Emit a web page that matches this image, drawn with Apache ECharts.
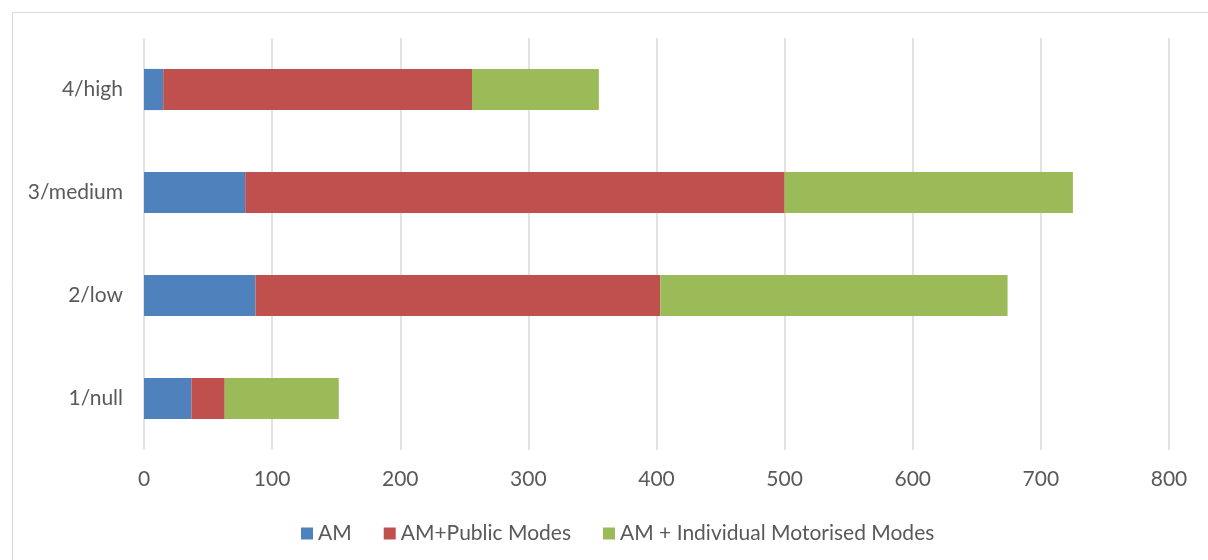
<!DOCTYPE html>
<html>
<head>
<meta charset="utf-8">
<title>AM modes by level</title>
<script src="https://cdn.jsdelivr.net/npm/echarts@6/dist/echarts.min.js"></script>
<style>
  html, body { margin: 0; padding: 0; background: #fff; }
  #chart { width: 1208px; height: 560px; }
</style>
</head>
<body>
<div id="chart"></div>
<script>
// Category labels, bottom to top
var levels = ['1/null', '2/low', '3/medium', '4/high'];

// Series values
var amOnly = [37, 87, 79, 15];
var amPublic = [26, 316, 421, 241];
var amIndividual = [89, 271, 225, 99];

var seriesNames = ['AM', 'AM+Public Modes', 'AM + Individual Motorised Modes'];
var colors = ['#4f81bd', '#c0504d', '#9bbb59'];

var FONT = 'Lato, "Noto Sans", sans-serif';
var TEXT = '#595959';

var chart = echarts.init(document.getElementById('chart'));

function stackSeries(name, data, color) {
  return {
    name: name,
    type: 'bar',
    stack: 'total',
    barWidth: '40%',
    data: data,
    itemStyle: { color: color },
    emphasis: { disabled: true }
  };
}

var option = {
  animation: false,
  color: colors,
  graphic: [{
    type: 'rect',
    left: 10,
    top: 10,
    shape: { width: 1240, height: 600 },
    style: { fill: 'none', stroke: '#d9d9d9', lineWidth: 1 },
    silent: true
  }],
  grid: {
    left: 144,
    right: 39,
    top: 38,
    bottom: 110
  },
  xAxis: {
    type: 'value',
    min: 0,
    max: 800,
    interval: 100,
    axisLine: { show: false },
    axisTick: { show: false },
    axisLabel: {
      color: TEXT,
      fontFamily: FONT,
      fontSize: 21,
      margin: 19
    },
    splitLine: {
      lineStyle: { color: '#d9d9d9', width: 1.5 }
    }
  },
  yAxis: {
    type: 'category',
    data: levels,
    axisLine: { show: false },
    axisTick: { show: false },
    axisLabel: {
      color: TEXT,
      fontFamily: FONT,
      fontSize: 21,
      margin: 21
    }
  },
  legend: {
    left: 296,
    top: 518,
    itemWidth: 12,
    itemHeight: 12,
    itemGap: 32,
    icon: 'rect',
    textStyle: {
      color: TEXT,
      fontFamily: FONT,
      fontSize: 21,
      padding: [0, 0, 0, 0]
    },
    data: seriesNames
  },
  series: [
    stackSeries(seriesNames[0], amOnly, colors[0]),
    stackSeries(seriesNames[1], amPublic, colors[1]),
    stackSeries(seriesNames[2], amIndividual, colors[2])
  ]
};

chart.setOption(option);

window.addEventListener('resize', function () {
  chart.resize();
});
</script>
</body>
</html>
